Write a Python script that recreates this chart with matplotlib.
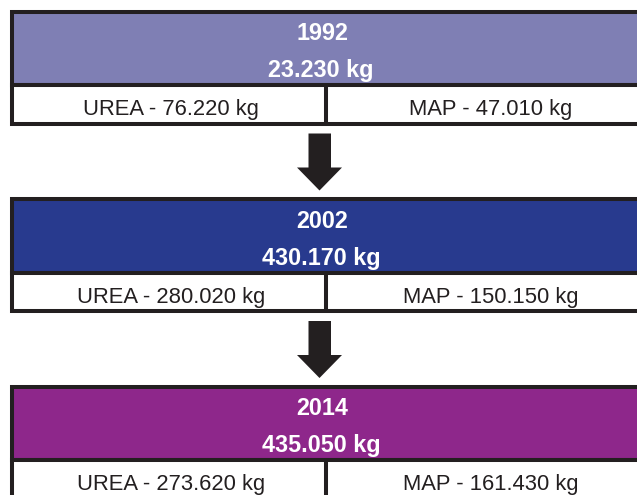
import matplotlib.pyplot as plt
from matplotlib.patches import Rectangle, Polygon

plt.rcParams['font.family'] = ['Liberation Sans', 'DejaVu Sans']

# data
years = ['1992', '2002', '2014']
totals = ['23.230 kg', '430.170 kg', '435.050 kg']
urea = ['76.220 kg', '280.020 kg', '273.620 kg']
map_vals = ['47.010 kg', '150.150 kg', '161.430 kg']
head_colors = ['#7f7fb4', '#283a8e', '#8e278b']

edge = '#231f20'
lw = 2.9

fig = plt.figure(figsize=(6.37, 4.95), dpi=100)
ax = fig.add_axes([0, 0, 1, 1])
ax.set_xlim(0, 637)
ax.set_ylim(495, 0)
ax.axis('off')

left, right, mid = 12, 662, 326
step = 187.5

for i, yr in enumerate(years):
    top = 11.5 + i * step
    sep = top + 73.5
    bot = sep + 38.5

    # header + row boxes
    ax.add_patch(Rectangle((left, top), right - left, sep - top,
                           facecolor=head_colors[i], edgecolor=edge, lw=lw))
    ax.add_patch(Rectangle((left, sep), right - left, bot - sep,
                           facecolor='white', edgecolor=edge, lw=lw))
    ax.plot([mid, mid], [sep, bot], color=edge, lw=lw, solid_capstyle='butt')

    ax.text(322, top + 28.5, yr, color='white', fontsize=16.8,
            fontweight='bold', ha='center', va='baseline')
    ax.text(321, top + 65.5, totals[i], color='white', fontsize=16.8,
            fontweight='bold', ha='center', va='baseline')
    ax.text(171, top + 103.5, 'UREA - ' + urea[i], color=edge,
            fontsize=15.8, ha='center', va='baseline')
    ax.text(491, top + 103.5, 'MAP - ' + map_vals[i], color=edge,
            fontsize=15.8, ha='center', va='baseline')

    # arrow to next block
    if i < len(years) - 1:
        a = bot + 10
        ax.add_patch(Polygon([(308.5, a), (331, a), (331, a + 34), (342, a + 34),
                              (319.5, a + 57), (297, a + 34), (308.5, a + 34)],
                             closed=True, facecolor=edge, edgecolor='none'))

fig.savefig('out.png', dpi=100)
